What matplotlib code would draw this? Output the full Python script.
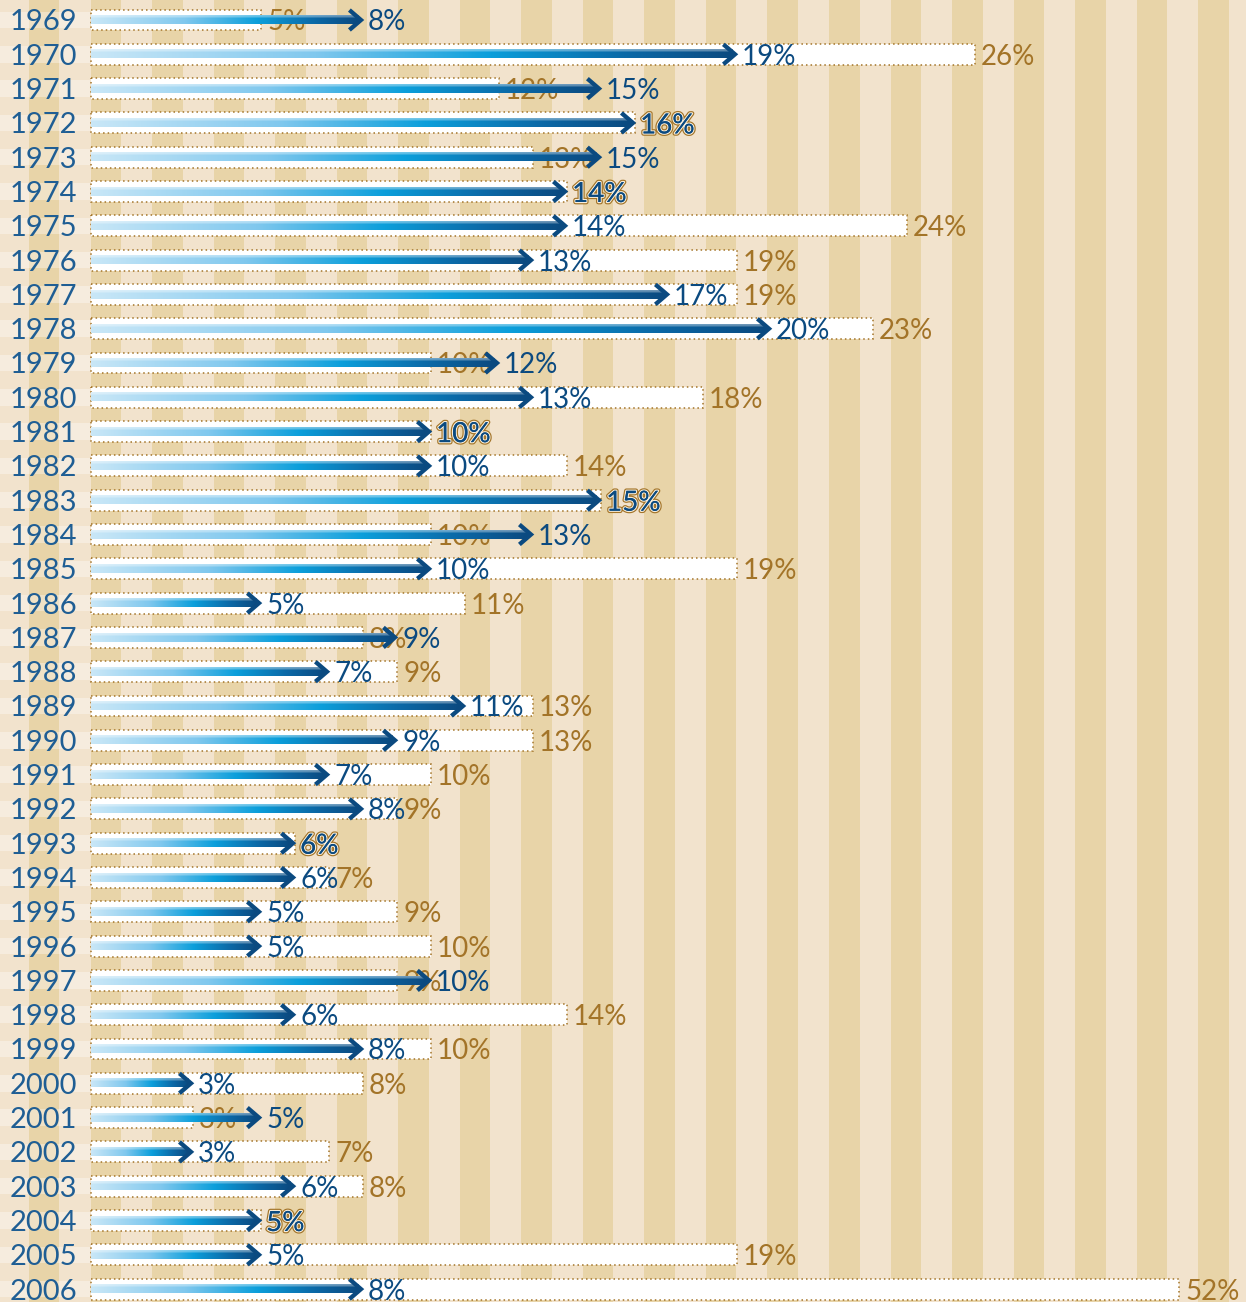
import numpy as np
import matplotlib
matplotlib.use("Agg")
from matplotlib import pyplot as plt
from matplotlib import patheffects as pe
from matplotlib.colors import LinearSegmentedColormap

years = list(range(1969, 2007))
# brown (white box) values and blue (arrow) values, in percent
box_vals = [5, 26, 12, 16, 13, 14, 24, 19, 19, 23, 10, 18, 10, 14, 15, 10, 19,
            11, 8, 9, 13, 13, 10, 9, 6, 7, 9, 10, 9, 14, 10, 8, 3, 7, 8, 5, 19, 52]
arrow_vals = [8, 19, 15, 16, 15, 14, 14, 13, 17, 20, 12, 13, 10, 10, 15, 13, 10,
              5, 9, 7, 11, 9, 7, 8, 6, 6, 5, 5, 10, 6, 8, 3, 5, 3, 6, 5, 5, 8]
BOX_CAP = 32.0  # longest box is cut at the right edge

BROWN = "#A37428"
NAVY = "#0B4A80"
YEAR_BLUE = "#1F5E94"
LIGHT = "#F2E3CD"
DARK = "#E8D4A8"

plt.rcParams["font.family"] = ["Lato", "DejaVu Sans"]

PX = 34.0   # pixels per percent
ROW = 34.3  # pixels per row

fig = plt.figure(figsize=(12.46, 13.02), dpi=100)
fig.patch.set_facecolor(LIGHT)
ax = fig.add_axes([0, 0, 1, 1])
ax.axis("off")

rows = np.arange(len(years))
xmin, xmax = -91 / PX, (1246 - 91) / PX

# vertical stripes in the background
period = 61.54 / PX
for k in range(22):
    x0 = -62 / PX + k * period
    ax.axvspan(x0, x0 + 30.5 / PX, color=DARK, lw=0, zorder=0)

# light bands behind the year labels
ax.barh(rows, -0.03 - xmin, left=xmin, height=0.48, color="white",
        alpha=0.35, lw=0, zorder=1)

# white boxes with dotted border
box_len = np.minimum(box_vals, BOX_CAP)
ax.barh(rows, box_len, height=0.61, color="white", edgecolor=BROWN,
        linestyle=(0, (1, 2)), linewidth=1.1, zorder=2)

cmap = LinearSegmentedColormap.from_list(
    "arr", [(0, "#C9E7F7"), (0.35, "#80C8EE"), (0.62, "#0C9FDB"),
            (0.84, "#0B68A6"), (1, NAVY)])
t = np.linspace(0, 1, 256)
base = cmap(t)[:, :3]
grad = np.stack([0.6 * base + 0.4, base, base, base])

halo = [pe.withStroke(linewidth=3.4, foreground=BROWN),
        pe.withStroke(linewidth=1.7, foreground="#F7EEDD"), pe.Normal()]

fs = 20
for i, (yr, b, a) in enumerate(zip(years, box_vals, arrow_vals)):
    ax.text(-14 / PX, i, str(yr), ha="right", va="center_baseline",
            fontsize=21, color=YEAR_BLUE, zorder=3)

    # arrow shaft with gradient, then chevron head
    ax.imshow(grad, extent=[0, a - 0.12, i + 0.12, i - 0.12], aspect="auto",
              interpolation="bilinear", zorder=4)
    ax.plot([a - 0.4, a - 0.06, a - 0.4], [i - 0.29, i, i + 0.29],
            color=NAVY, lw=3.1, solid_joinstyle="miter",
            solid_capstyle="butt", zorder=5)

    if a == b:
        ax.text(a + 0.15, i, f"{a}%", ha="left", va="center_baseline",
                fontsize=fs, color=NAVY, zorder=6, path_effects=halo)
    else:
        ax.text(min(b, BOX_CAP) + 0.18, i, f"{b}%", ha="left",
                va="center_baseline", fontsize=fs, color=BROWN, zorder=3)
        ax.text(a + 0.15, i, f"{a}%", ha="left", va="center_baseline",
                fontsize=fs, color=NAVY, zorder=6)

ax.set_xlim(xmin, xmax)
ax.set_ylim((1302 - 20) / ROW, -20 / ROW)

fig.savefig("out.png", dpi=100, facecolor=fig.get_facecolor())
